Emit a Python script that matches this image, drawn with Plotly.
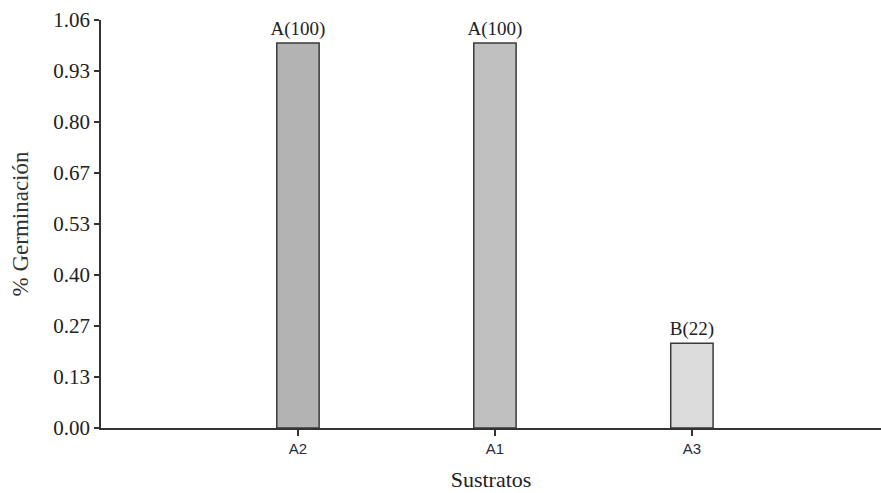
import plotly.graph_objects as go

categories = ["A2", "A1", "A3"]
values = [1.0, 1.0, 0.22]
labels = ["A(100)", "A(100)", "B(22)"]
colors = ["#b3b3b3", "#c0c0c0", "#dcdcdc"]
ytick_vals = [i * 1.06 / 8 for i in range(9)]
ytick_text = ["0.00", "0.13", "0.27", "0.40", "0.53", "0.67", "0.80", "0.93", "1.06"]

serif = "Liberation Serif, Times New Roman, serif"
sans = "Liberation Sans, Arial, sans-serif"

fig = go.Figure(go.Bar(
    x=list(range(len(categories))), y=values,
    width=0.215,
    marker=dict(color=colors, line=dict(color="#3a3a3a", width=1.5)),
    text=labels, textposition="outside", constraintext="none",
    textfont=dict(family=serif, size=19, color="#222"),
    cliponaxis=False,
))

fig.update_layout(
    width=881, height=493,
    margin=dict(l=101, r=0, t=20, b=65),
    plot_bgcolor="white", paper_bgcolor="white",
    showlegend=False,
    xaxis=dict(
        range=[-1, 2.96],
        tickmode="array", tickvals=list(range(len(categories))), ticktext=categories,
        ticks="outside", ticklen=6, tickwidth=1.5, tickcolor="#333",
        showline=True, linecolor="#333", linewidth=1.5,
        showgrid=False, zeroline=False,
        tickfont=dict(family=sans, size=15, color="#2b2b3b"),
        title=dict(text="Sustratos", font=dict(family=serif, size=22, color="#222"), standoff=16),
    ),
    yaxis=dict(
        range=[0, 1.06],
        tickmode="array", tickvals=ytick_vals, ticktext=ytick_text,
        ticks="outside", ticklen=5, tickwidth=1.5, tickcolor="#333",
        showline=True, linecolor="#333", linewidth=1.5,
        showgrid=False, zeroline=False,
        tickfont=dict(family=serif, size=21, color="#222"),
        title=dict(text="% Germinación", font=dict(family=serif, size=23, color="#333"), standoff=18),
    ),
)

fig.write_html(
    "out.html",
    config={"displayModeBar": False},
    post_script="document.body.style.margin='0';document.body.style.overflow='hidden';",
)
